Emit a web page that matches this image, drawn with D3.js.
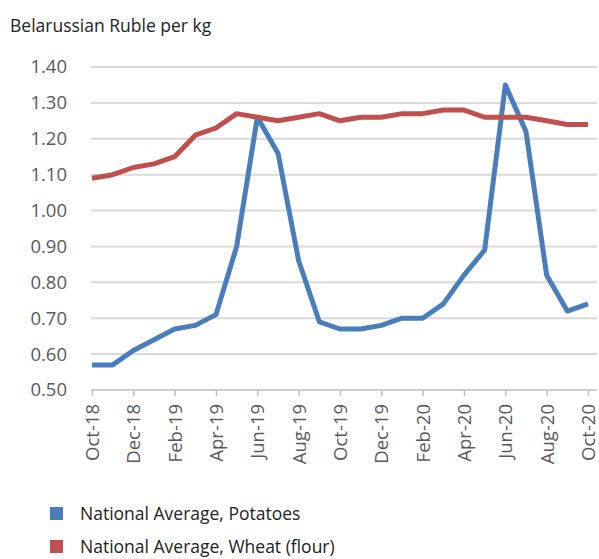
<!DOCTYPE html>
<html>
<head>
<meta charset="utf-8">
<script src="https://cdn.jsdelivr.net/npm/d3@7"></script>
<style>
  body { margin: 0; background: #fff; }
  svg text { font-family: "Open Sans", "Noto Sans", sans-serif; }
</style>
</head>
<body>
<div class="chart"></div>
<script>
// monthly data, Oct-18 .. Oct-20
const months = ["Oct-18","Nov-18","Dec-18","Jan-19","Feb-19","Mar-19","Apr-19","May-19","Jun-19","Jul-19","Aug-19","Sep-19",
  "Oct-19","Nov-19","Dec-19","Jan-20","Feb-20","Mar-20","Apr-20","May-20","Jun-20","Jul-20","Aug-20","Sep-20","Oct-20"];
const potatoes = [0.57,0.57,0.61,0.64,0.67,0.68,0.71,0.90,1.26,1.16,0.86,0.69,
  0.67,0.67,0.68,0.70,0.70,0.74,0.82,0.89,1.35,1.22,0.82,0.72,0.74];
const wheat = [1.09,1.10,1.12,1.13,1.15,1.21,1.23,1.27,1.26,1.25,1.26,1.27,
  1.25,1.26,1.26,1.27,1.27,1.28,1.28,1.26,1.26,1.26,1.25,1.24,1.24];
const yTicks = [0.5,0.6,0.7,0.8,0.9,1.0,1.1,1.2,1.3,1.4];
const seriesNames = ["National Average, Potatoes", "National Average, Wheat (flour)"];
const colors = ["#4a7ebb", "#c0504d"];

const width = 599, height = 559;
const margin = {left: 91, right: 7, top: 67, bottom: 170};

let svg = d3.select(".chart").append("svg")
  .attr("width", width)
  .attr("height", height);

let x = d3.scalePoint()
  .domain(months)
  .range([92, 588]);

let y = d3.scaleLinear()
  .domain([0.5, 1.4])
  .range([390, margin.top]);

// title
svg.append("text")
  .attr("x", 10).attr("y", 32)
  .attr("font-size", 17.5)
  .attr("fill", "#222")
  .text("Belarussian Ruble per kg");

// gridlines
svg.append("g")
  .selectAll("line")
  .data(yTicks.slice(1))
  .join("line")
    .attr("x1", margin.left).attr("x2", width - 2)
    .attr("y1", d => y(d)).attr("y2", d => y(d))
    .attr("stroke", "#d9d9d9")
    .attr("stroke-width", 2);

// y axis
let yAxis = svg.append("g")
  .attr("transform", "translate(" + (margin.left - 21) + ",0)")
  .call(d3.axisLeft(y).tickValues(yTicks).tickFormat(d3.format(".2f")).tickSize(0));
yAxis.select(".domain").remove();
yAxis.selectAll("text")
  .attr("font-size", 18.5)
  .attr("fill", "#595959")
  .attr("font-family", "\"Open Sans\", sans-serif");

// x axis
let xAxis = svg.append("g")
  .attr("transform", "translate(0," + y(0.5) + ")")
  .call(d3.axisBottom(x)
    .tickValues(months.filter((d, i) => i % 2 == 0))
    .tickSize(6)
    .tickSizeOuter(0));
xAxis.select(".domain").attr("stroke", "#bfbfbf").attr("stroke-width", 1.5)
  .attr("d", "M" + margin.left + ",0H" + (width - 2));
xAxis.selectAll(".tick line").attr("stroke", "#bfbfbf").attr("stroke-width", 1.5);
xAxis.selectAll("text")
  .attr("font-size", 18.5)
  .attr("fill", "#595959")
  .attr("font-family", "\"Open Sans\", sans-serif")
  .attr("transform", "rotate(-90)")
  .attr("text-anchor", "end")
  .attr("dy", "0.35em")
  .attr("x", -14)
  .attr("y", 0);

// lines
let line = d3.line()
  .x((d, i) => x(months[i]))
  .y(d => y(d));

[potatoes, wheat].forEach(function(s, k) {
  svg.append("path")
    .datum(s)
    .attr("fill", "none")
    .attr("stroke", colors[k])
    .attr("stroke-width", 5)
    .attr("stroke-linejoin", "round")
    .attr("d", line);
});

// legend
let legend = svg.append("g")
  .selectAll("g")
  .data(seriesNames)
  .join("g")
    .attr("transform", (d, i) => "translate(50," + (507 + i * 33) + ")");
legend.append("rect")
  .attr("width", 13).attr("height", 13)
  .attr("fill", (d, i) => colors[i]);
legend.append("text")
  .attr("x", 30).attr("y", 13)
  .attr("font-size", 17.5)
  .attr("fill", "#222")
  .text(d => d);
</script>
</body>
</html>
